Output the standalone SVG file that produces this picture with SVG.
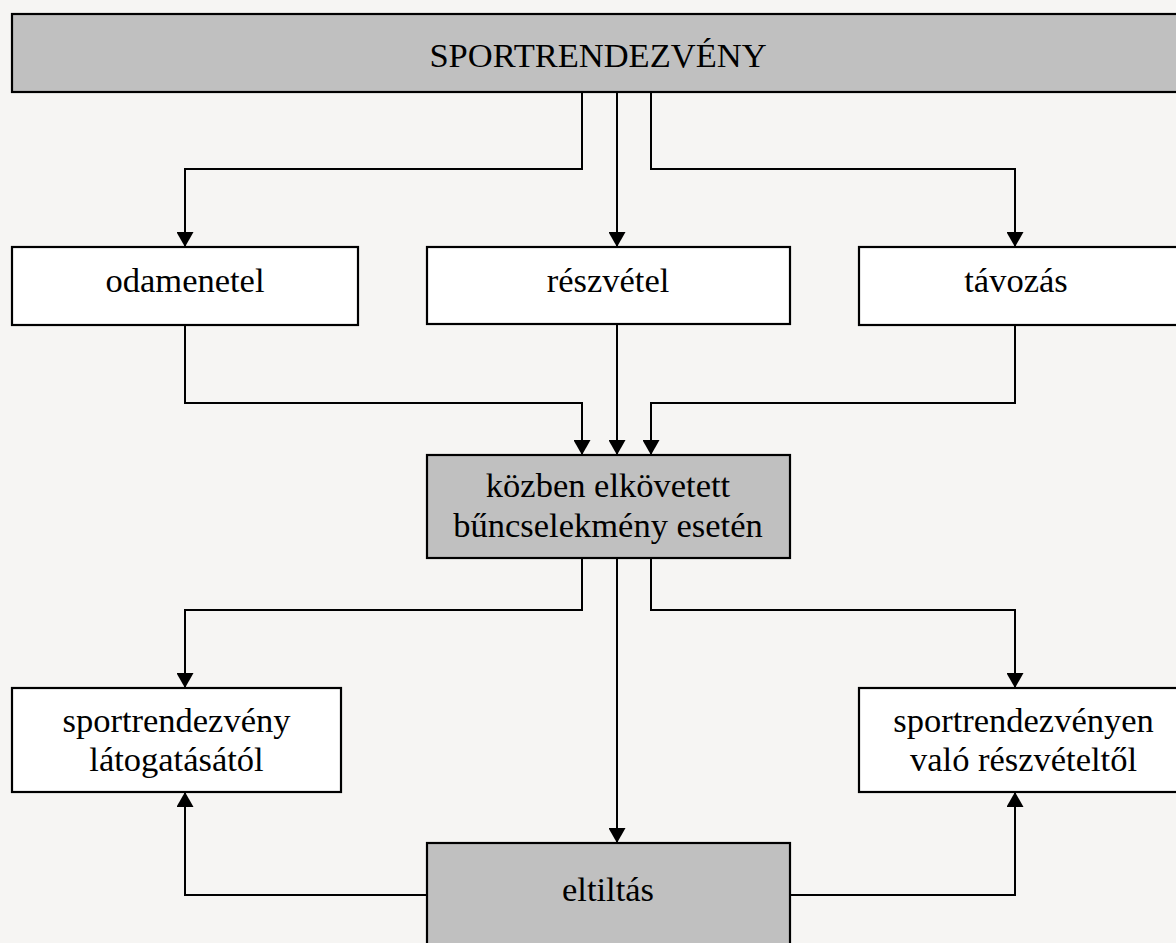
<svg xmlns="http://www.w3.org/2000/svg" width="1176" height="943" viewBox="0 0 1176 943">
<style>
.bg{fill:#f6f5f3}
.box{stroke:#000;stroke-width:2.2}
.gray{fill:#c0c0c0}
.white{fill:#fff}
.t{font-family:"Liberation Serif","Times New Roman",serif;font-size:34.5px;fill:#000;text-anchor:middle}
.c{fill:none;stroke:#000;stroke-width:2;marker-end:url(#ah)}
</style>
<defs>
<marker id="ah" markerUnits="userSpaceOnUse" markerWidth="16" markerHeight="17" refX="15" refY="8.5" orient="auto">
<path d="M0,0 L15,8.5 L0,17 z" fill="#000"/>
</marker>
</defs>
<rect class="bg" x="0" y="0" width="1176" height="943"/>
<g id="connectors">
<path class="c" d="M582,92 V169 H185 V247"/>
<path class="c" d="M617,92 V247"/>
<path class="c" d="M651,92 V169 H1015 V247"/>
<path class="c" d="M185,325 V403 H582 V455"/>
<path class="c" d="M617,324 V455"/>
<path class="c" d="M1015,325 V403 H651 V455"/>
<path class="c" d="M582,558 V610 H185 V688"/>
<path class="c" d="M617,558 V843"/>
<path class="c" d="M651,558 V610 H1015 V688"/>
<path class="c" d="M427,895 H185 V792"/>
<path class="c" d="M790,895 H1015 V792"/>
</g>
<g id="n-sport">
<rect class="box gray" x="12" y="14" width="1180" height="78"/>
<text class="t" x="598" y="67">SPORTRENDEZVÉNY</text>
</g>
<g id="n-odamenetel">
<rect class="box white" x="12" y="247" width="346" height="78"/>
<text class="t" x="185" y="292">odamenetel</text>
</g>
<g id="n-reszvetel">
<rect class="box white" x="427" y="247" width="363" height="77"/>
<text class="t" x="608" y="292">részvétel</text>
</g>
<g id="n-tavozas">
<rect class="box white" x="859" y="247" width="340" height="78"/>
<text class="t" x="1016" y="292">távozás</text>
</g>
<g id="n-kozben">
<rect class="box gray" x="427" y="455" width="363" height="103"/>
<text class="t" x="608" y="497">közben elkövetett</text>
<text class="t" x="608" y="537">bűncselekmény esetén</text>
</g>
<g id="n-latogatas">
<rect class="box white" x="12" y="688" width="329" height="104"/>
<text class="t" x="176.5" y="732">sportrendezvény</text>
<text class="t" x="176.5" y="771">látogatásától</text>
</g>
<g id="n-reszvetel2">
<rect class="box white" x="859" y="688" width="340" height="104"/>
<text class="t" x="1023.5" y="732">sportrendezvényen</text>
<text class="t" x="1023.5" y="771">való részvételtől</text>
</g>
<g id="n-eltiltas">
<rect class="box gray" x="427" y="843" width="363" height="120"/>
<text class="t" x="608" y="901">eltiltás</text>
</g>
</svg>
